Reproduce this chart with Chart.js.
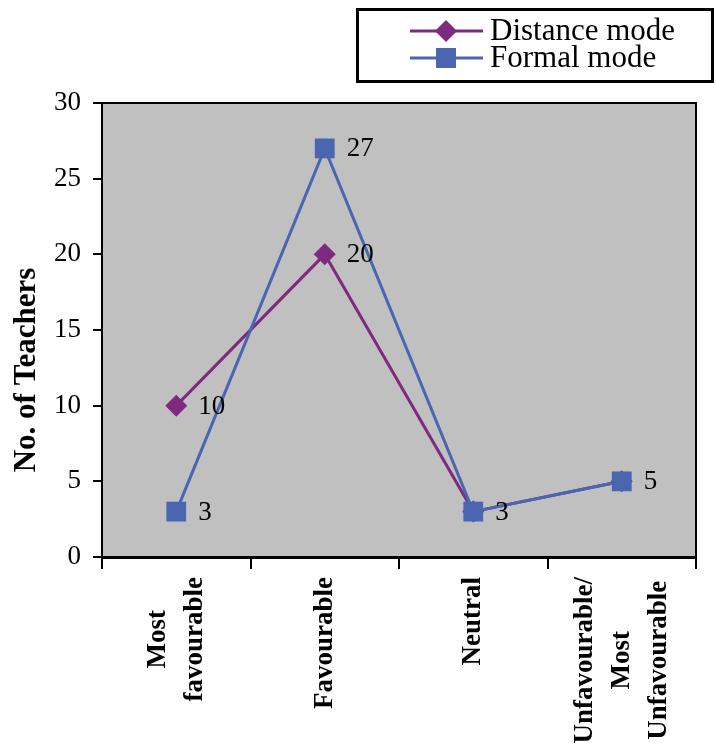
<!DOCTYPE html>
<html>
<head>
<meta charset="utf-8">
<script src="https://cdn.jsdelivr.net/npm/chart.js@4"></script>
<style>
  html, body { margin: 0; padding: 0; background: #ffffff; }
  canvas { display: block; }
</style>
</head>
<body>
<canvas id="chart" width="716" height="744"></canvas>
<script>
// Teacher responses by opinion category
const categories = [
  ['Most', 'favourable'],
  ['Favourable'],
  ['Neutral'],
  ['Unfavourable/', 'Most', 'Unfavourable']
];
const distanceMode = [10, 20, 3, 5];
const formalMode = [3, 27, 3, 5];
// which points carry a value label
const distanceLabelled = [true, true, false, false];
const formalLabelled = [true, true, true, true];
const yTicks = [0, 5, 10, 15, 20, 25, 30];
const yTitle = 'No. of Teachers';

const PURPLE = '#7E2A80';
const BLUE = '#4A66B1';
const SERIF = '"Liberation Serif", "Times New Roman", serif';

const plotFrame = {
  id: 'plotFrame',
  beforeDatasetsDraw(chart) {
    const { ctx, chartArea: a } = chart;
    ctx.save();
    ctx.fillStyle = '#C0C0C0';
    ctx.fillRect(a.left, a.top, a.right - a.left, a.bottom - a.top);
    ctx.strokeStyle = '#000';
    ctx.lineWidth = 2;
    ctx.strokeRect(a.left, a.top, a.right - a.left, a.bottom - a.top);
    ctx.restore();
  }
};

// vertical, centred multi-line category names under the x axis
const categoryNames = {
  id: 'categoryNames',
  afterDraw(chart) {
    const { ctx } = chart;
    const xs = chart.scales.x;
    const top = chart.chartArea.bottom + 20;
    const gap = 37;
    ctx.save();
    ctx.font = 'bold 27px ' + SERIF;
    ctx.fillStyle = '#000';
    ctx.textAlign = 'center';
    ctx.textBaseline = 'middle';
    chart.data.labels.forEach((lines, i) => {
      const cx = xs.getPixelForValue(i);
      const maxW = Math.max(...lines.map(s => ctx.measureText(s).width));
      const cy = top + maxW / 2;
      lines.forEach((s, k) => {
        ctx.save();
        ctx.translate(cx + (k - (lines.length - 1) / 2) * gap, cy);
        ctx.rotate(-Math.PI / 2);
        ctx.fillText(s, 0, 0);
        ctx.restore();
      });
    });
    ctx.restore();
  }
};

const valueLabels = {
  id: 'valueLabels',
  afterDatasetsDraw(chart) {
    const { ctx } = chart;
    ctx.save();
    ctx.font = '27px ' + SERIF;
    ctx.fillStyle = '#000';
    ctx.textAlign = 'left';
    ctx.textBaseline = 'middle';
    chart.data.datasets.forEach((ds, i) => {
      const meta = chart.getDatasetMeta(i);
      meta.data.forEach((pt, j) => {
        if (!ds.labelled[j]) return;
        ctx.fillText(String(ds.data[j]), pt.x + 22, pt.y + 1);
      });
    });
    ctx.restore();
  }
};

const sideTitle = {
  id: 'sideTitle',
  afterDraw(chart) {
    const { ctx } = chart;
    ctx.save();
    ctx.translate(27, 370);
    ctx.rotate(-Math.PI / 2);
    ctx.font = 'bold 31px ' + SERIF;
    ctx.fillStyle = '#000';
    ctx.textAlign = 'center';
    ctx.textBaseline = 'middle';
    ctx.fillText(yTitle, 0, 0);
    ctx.restore();
  }
};

const boxLegend = {
  id: 'boxLegend',
  afterDraw(chart) {
    const { ctx } = chart;
    ctx.save();
    ctx.strokeStyle = '#000';
    ctx.lineWidth = 3;
    ctx.strokeRect(357.5, 9.5, 355, 72);
    const rows = [31, 58];
    chart.data.datasets.forEach((ds, i) => {
      const y = rows[i];
      ctx.strokeStyle = ds.borderColor;
      ctx.lineWidth = 3;
      ctx.beginPath();
      ctx.moveTo(410, y);
      ctx.lineTo(483, y);
      ctx.stroke();
      ctx.fillStyle = ds.backgroundColor;
      ctx.beginPath();
      if (ds.pointStyle === 'rectRot') {
        ctx.moveTo(446, y - 11);
        ctx.lineTo(457, y);
        ctx.lineTo(446, y + 11);
        ctx.lineTo(435, y);
        ctx.closePath();
      } else {
        ctx.rect(436, y - 10, 20, 20);
      }
      ctx.fill();
      ctx.fillStyle = '#000';
      ctx.font = '31px ' + SERIF;
      ctx.textAlign = 'left';
      ctx.textBaseline = 'middle';
      ctx.fillText(ds.label, 490, y + 1);
    });
    ctx.restore();
  }
};

new Chart(document.getElementById('chart'), {
  type: 'line',
  data: {
    labels: categories,
    datasets: [
      {
        label: 'Distance mode',
        data: distanceMode,
        labelled: distanceLabelled,
        borderColor: PURPLE,
        backgroundColor: PURPLE,
        borderWidth: 3,
        pointStyle: 'rectRot',
        pointRadius: 11,
        pointBorderWidth: 0,
        pointHoverRadius: 11,
        order: 1
      },
      {
        label: 'Formal mode',
        data: formalMode,
        labelled: formalLabelled,
        borderColor: BLUE,
        backgroundColor: BLUE,
        borderWidth: 3,
        pointStyle: 'rect',
        pointRadius: 14,
        pointBorderWidth: 0,
        pointHoverRadius: 14,
        order: 0
      }
    ]
  },
  options: {
    responsive: false,
    animation: false,
    layout: { padding: { top: 103, right: 20, left: 0, bottom: 0 } },
    plugins: {
      legend: { display: false },
      tooltip: { enabled: false }
    },
    scales: {
      x: {
        type: 'category',
        offset: true,
        border: { display: true, color: '#000', width: 3 },
        grid: {
          offset: true,
          drawOnChartArea: false,
          drawTicks: true,
          tickLength: 12,
          color: '#000',
          lineWidth: 2
        },
        ticks: { display: false },
        afterFit(scale) { scale.height = 187; }
      },
      y: {
        min: 0,
        max: 30,
        border: { display: true, color: '#000', width: 3 },
        grid: {
          drawOnChartArea: false,
          drawTicks: true,
          tickLength: 9,
          color: '#000',
          lineWidth: 2
        },
        ticks: {
          stepSize: 5,
          color: '#000',
          font: { family: SERIF, size: 27 },
          padding: 12,
          callback: (v) => yTicks.includes(v) ? String(v) : null
        },
        afterFit(scale) { scale.width = 102; }
      }
    }
  },
  plugins: [plotFrame, valueLabels, categoryNames, sideTitle, boxLegend]
});
</script>
</body>
</html>
